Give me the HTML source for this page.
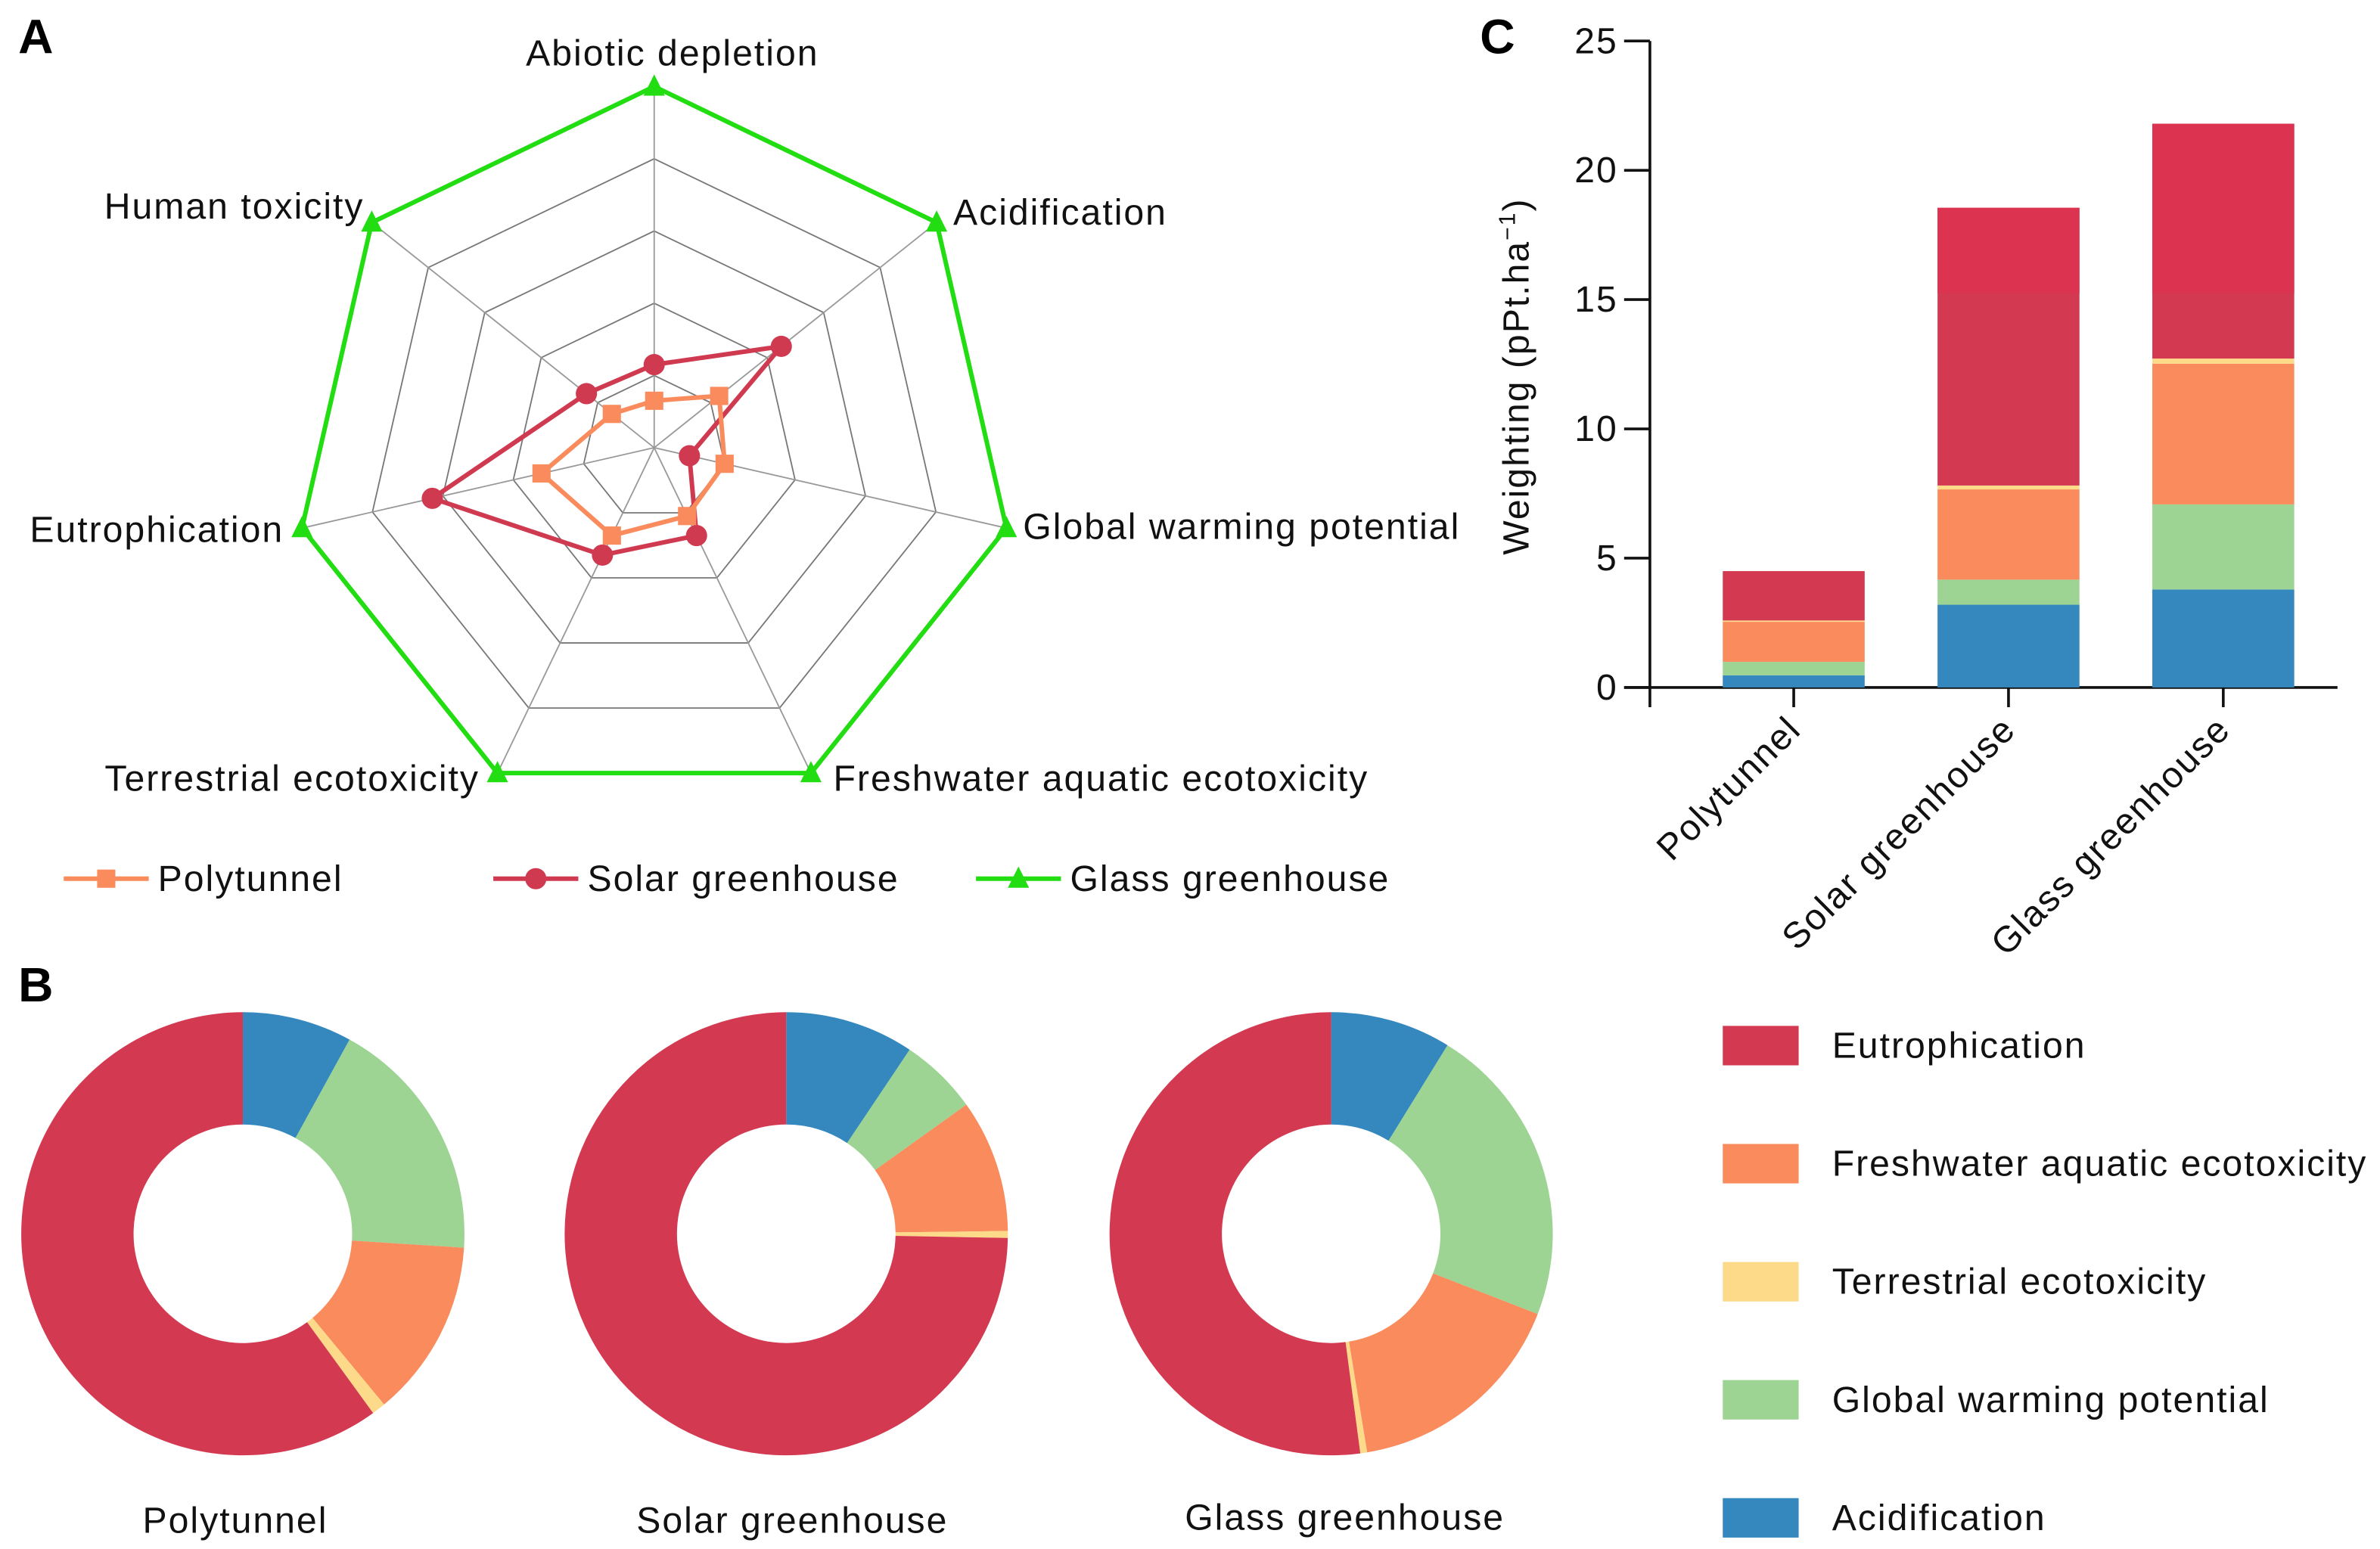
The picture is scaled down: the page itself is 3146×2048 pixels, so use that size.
<!DOCTYPE html>
<html><head><meta charset="utf-8"><style>
html,body{margin:0;padding:0;background:#fff}
svg{display:block;font-family:"Liberation Sans",Arial,sans-serif}
svg text{letter-spacing:1px}
</style></head><body>
<svg id="fig" width="3146" height="2048" viewBox="0 0 1568 1020.7" xmlns="http://www.w3.org/2000/svg">
<rect width="1568" height="1021" fill="#fff"/>
<g id="radar"></g>
<g id="donuts"></g>
<g id="bars"></g>
<text x="12" y="35" font-size="32" font-weight="bold" style="letter-spacing:0">A</text>
<text x="12" y="660" font-size="32" font-weight="bold" style="letter-spacing:0">B</text>
<text x="975" y="35" font-size="32" font-weight="bold" style="letter-spacing:0">C</text>
</svg>
<script>
// Radar data (% of max)
const radarAxes = ["Abiotic depletion","Acidification","Global warming potential","Freshwater aquatic ecotoxicity","Terrestrial ecotoxicity","Eutrophication","Human toxicity"];
const radarPoly = [13,23,20,21,27,32,15];
const radarSolar = [23,45,10,27,33,63,24];
const radarGlass = [100,100,100,100,100,100,100];
// Bar data (pPt.ha-1)
const barCats = ["Polytunnel","Solar greenhouse","Glass greenhouse"];
const barAcid = [0.47,3.20,3.79];
const barGWP = [0.52,0.97,3.29];
const barFresh = [1.55,3.49,5.44];
const barTerr = [0.05,0.15,0.20];
const barEutro = [1.91,10.74,9.08];
const yTicks = [0,5,10,15,20,25];
// Donut shares (%)
const donutAcid = [8,9.4,8.8];
const donutGWP = [18,5.7,22.1];
const donutFresh = [13,9.7,16.5];
const donutTerr = [1,0.5,0.5];
const donutEutro = [60,74.7,52.1];

const NS="http://www.w3.org/2000/svg";
const FS=24;
function mk(parent,tag,attrs){const e=document.createElementNS(NS,tag);for(const k in attrs)e.setAttribute(k,attrs[k]);parent.appendChild(e);return e;}
const C={eutro:"#d33a51",eutroTop:"#dc3350",fresh:"#f98b5c",terr:"#fdd98a",gwp:"#9dd494",acid:"#3488be"};

// ---------- Radar ----------
const R=document.getElementById('radar');
const cx=431,cy=295,RR=238,N=7;
function ang(i){return -Math.PI/2+i*2*Math.PI/N;}
function pt(i,v){const a=ang(i);return [cx+Math.cos(a)*RR*v/100,cy+Math.sin(a)*RR*v/100];}
[20,40,60,80].forEach(lv=>{
  const p=radarAxes.map((_,i)=>pt(i,lv).join(',')).join(' ');
  const e=mk(R,'polygon',{points:p,fill:'none',stroke:'#777','stroke-width':0.9});
  
  
});
radarAxes.forEach((_,i)=>{const [x,y]=pt(i,100);
  const e=mk(R,'line',{x1:cx,y1:cy,x2:x,y2:y,stroke:'#999','stroke-width':0.9});
  
  
});
const labPos=[[443,43,'middle'],[628,148,'start'],[674,355,'start'],[549,521,'start'],[316,521,'end'],[187,357,'end'],[240,144,'end']];
radarAxes.forEach((t,i)=>{
  const e=mk(R,'text',{x:labPos[i][0],y:labPos[i][1],'text-anchor':labPos[i][2],'font-size':FS,fill:'#111'});
  e.textContent=t;
  
  
});
function marker(g,type,x,y,col,s){
  let e;
  if(type==='sq')e=mk(g,'rect',{x:x-s,y:y-s,width:2*s,height:2*s,fill:col});
  else if(type==='ci')e=mk(g,'circle',{cx:x,cy:y,r:s+1,fill:col});
  else e=mk(g,'polygon',{points:`${x},${y-s-2} ${x-s-1},${y+s} ${x+s+1},${y+s}`,fill:col});
  return e;
}
const series=[[radarGlass,'#22dd11','tr','radar-series-glass'],[radarSolar,'#d03a50','ci','radar-series-solar'],[radarPoly,'#f98b5c','sq','radar-series-polytunnel']];
series.forEach(([d,col,m,name])=>{
  const g=mk(R,'g',{});
  
  
  const p=d.map((v,i)=>pt(i,v).join(',')).join(' ');
  mk(g,'polygon',{points:p,fill:'none',stroke:col,'stroke-width':3});
  d.forEach((v,i)=>{const [x,y]=pt(i,v);const e=marker(g,m,x,y,col,6);
    
    });
});
const leg=[[42,'#f98b5c','sq','Polytunnel'],[325,'#d03a50','ci','Solar greenhouse'],[643,'#22dd11','tr','Glass greenhouse']];
leg.forEach(([x,col,m,t])=>{
  const g=mk(R,'g',{});
  
  
  mk(g,'line',{x1:x,y1:579,x2:x+56,y2:579,stroke:col,'stroke-width':3});
  marker(g,m,x+28,579,col,6);
  const tx=mk(g,'text',{x:x+62,y:587,'font-size':FS,fill:'#111'});tx.textContent=t;
});

// ---------- Donuts ----------
const D=document.getElementById('donuts');
const dcx=[160,518,877],dcy=813,ro=146,ri=72;
const dnames=["Polytunnel","Solar greenhouse","Glass greenhouse"];
const dlx=[155,522,886],dly=[1010,1010,1008];
function arc(c,a0,a1){
  const f=(r,a)=>[c+r*Math.sin(a),dcy-r*Math.cos(a)];
  const lg=(a1-a0)>Math.PI?1:0;
  const [x0,y0]=f(ro,a0),[x1,y1]=f(ro,a1),[x2,y2]=f(ri,a1),[x3,y3]=f(ri,a0);
  return `M${x0},${y0} A${ro},${ro} 0 ${lg} 1 ${x1},${y1} L${x2},${y2} A${ri},${ri} 0 ${lg} 0 ${x3},${y3} Z`;
}
dcx.forEach((c,k)=>{
  const g=mk(D,'g',{});
  
  
  const vals=[[donutAcid[k],C.acid],[donutGWP[k],C.gwp],[donutFresh[k],C.fresh],[donutTerr[k],C.terr],[donutEutro[k],C.eutro]];
  const tot=vals.reduce((s,v)=>s+v[0],0);let a=0;
  vals.forEach(([v,col])=>{const a1=a+v/tot*2*Math.PI;
    const e=mk(g,'path',{d:arc(c,a,a1),fill:col});
    
    
    a=a1;});
  const t=mk(D,'text',{x:dlx[k],y:dly[k],'text-anchor':'middle','font-size':FS,fill:'#111'});
  t.textContent=dnames[k];
  
  
});

// ---------- Bars ----------
const B=document.getElementById('bars');
const y0=453,ppu=(453-27)/25,ax=1087;
const Y=v=>y0-v*ppu;
const bx=[1135,1276.5,1418],bw=93.5;
mk(B,'line',{x1:ax,y1:27,x2:ax,y2:466,stroke:'#111','stroke-width':1.8});
mk(B,'line',{x1:1070,y1:y0,x2:1540,y2:y0,stroke:'#111','stroke-width':1.8});
yTicks.forEach(v=>{
  mk(B,'line',{x1:1070,y1:Y(v),x2:ax,y2:Y(v),stroke:'#111','stroke-width':1.8});
  const t=mk(B,'text',{x:1066,y:Y(v)+8,'text-anchor':'end','font-size':FS,fill:'#111'});t.textContent=v;
  
  
});
const yt=mk(B,'text',{transform:'translate(1007,248) rotate(-90)','text-anchor':'middle','font-size':FS,fill:'#111'});
yt.innerHTML='Weighting (pPt.ha<tspan dy="-9" font-size="15">−1</tspan><tspan dy="9">)</tspan>';


barCats.forEach((cat,k)=>{
  const g=mk(B,'g',{});
  
  
  let base=0;
  [[barAcid[k],C.acid],[barGWP[k],C.gwp],[barFresh[k],C.fresh],[barTerr[k],C.terr],[barEutro[k],C.eutro]].forEach(([v,col])=>{
    const e=mk(g,'rect',{x:bx[k],y:Y(base+v),width:bw,height:v*ppu,fill:col});
    
    
    if(col===C.eutro&&base+v>15.25){const lo=Math.max(base,15.25);
      mk(g,'rect',{x:bx[k],y:Y(base+v),width:bw,height:(base+v-lo)*ppu,fill:C.eutroTop});}
    base+=v;
  });
  const cxk=bx[k]+bw/2;
  mk(B,'line',{x1:cxk,y1:y0,x2:cxk,y2:466,stroke:'#111','stroke-width':1.8});
  const t=mk(B,'text',{transform:`translate(${cxk+6},${482}) rotate(-45)`,'text-anchor':'end','font-size':FS,fill:'#111'});
  t.textContent=cat;
  
  
});
const legItems=[["Eutrophication",C.eutro],["Freshwater aquatic ecotoxicity",C.fresh],["Terrestrial ecotoxicity",C.terr],["Global warming potential",C.gwp],["Acidification",C.acid]];
legItems.forEach(([t,col],i)=>{
  const y=689+i*77.8;
  const g=mk(B,'g',{});
  
  
  mk(g,'rect',{x:1135,y:y-13,width:50,height:26,fill:col});
  const tx=mk(g,'text',{x:1207,y:y+8,'font-size':FS,fill:'#111'});tx.textContent=t;
});
</script>
</body></html>
